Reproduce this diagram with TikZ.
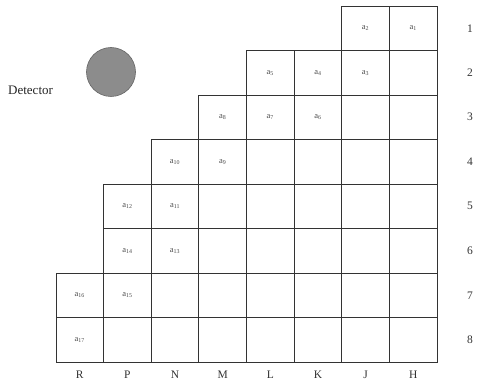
\documentclass[tikz,border=0pt]{standalone}
\usepackage{fontspec}
\setmainfont{Liberation Serif}
\begin{document}
\begin{tikzpicture}[x=1pt,y=1pt,
  cell/.style={draw=black!80,line width=0.8pt,minimum width=47.625pt,minimum height=44.5pt,inner sep=0pt,outer sep=0pt},
  lab/.style={text=black!70,font=\fontsize{8.5}{9}\selectfont,inner sep=0pt},
  axis/.style={text=black!80,font=\fontsize{11.5}{12}\selectfont,inner sep=0pt}]
\useasboundingbox (0,0) rectangle (477,-382);
% cells: row r starts at column s
\foreach \r/\s in {1/7,2/5,3/4,4/3,5/2,6/2,7/1,8/1}{
  \foreach \c in {\s,...,8}{
    \node[cell] (c-\r-\c) at ({56+(\c-0.5)*47.625},{-(6+(\r-0.5)*44.5)}) {};
  }
}
% cell labels
\node[lab] at (c-1-7) {a\textsubscript{2}};
\node[lab] at (c-1-8) {a\textsubscript{1}};
\node[lab] at (c-2-5) {a\textsubscript{5}};
\node[lab] at (c-2-6) {a\textsubscript{4}};
\node[lab] at (c-2-7) {a\textsubscript{3}};
\node[lab] at (c-3-4) {a\textsubscript{8}};
\node[lab] at (c-3-5) {a\textsubscript{7}};
\node[lab] at (c-3-6) {a\textsubscript{6}};
\node[lab] at (c-4-3) {a\textsubscript{10}};
\node[lab] at (c-4-4) {a\textsubscript{9}};
\node[lab] at (c-5-2) {a\textsubscript{12}};
\node[lab] at (c-5-3) {a\textsubscript{11}};
\node[lab] at (c-6-2) {a\textsubscript{14}};
\node[lab] at (c-6-3) {a\textsubscript{13}};
\node[lab] at (c-7-1) {a\textsubscript{16}};
\node[lab] at (c-7-2) {a\textsubscript{15}};
\node[lab] at (c-8-1) {a\textsubscript{17}};
% column labels
\foreach \c/\t in {1/R,2/P,3/N,4/M,5/L,6/K,7/J,8/H}{
  \node[axis] (col-\c) at ({56+(\c-0.5)*47.625},-375) {\t};
}
% row labels
\foreach \r in {1,...,8}{
  \node[axis,anchor=west] (row-\r) at (467,{-(6+(\r-0.5)*44.5)}) {\r};
}
% detector
\node[circle,fill=black!45,draw=black!60,line width=0.6pt,minimum size=49pt,inner sep=0pt] (det) at (111,-72) {};
\node[font=\fontsize{13}{14}\selectfont,text=black!85,anchor=west,inner sep=0pt] (dettext) at (8,-90) {Detector};
\end{tikzpicture}
\end{document}
